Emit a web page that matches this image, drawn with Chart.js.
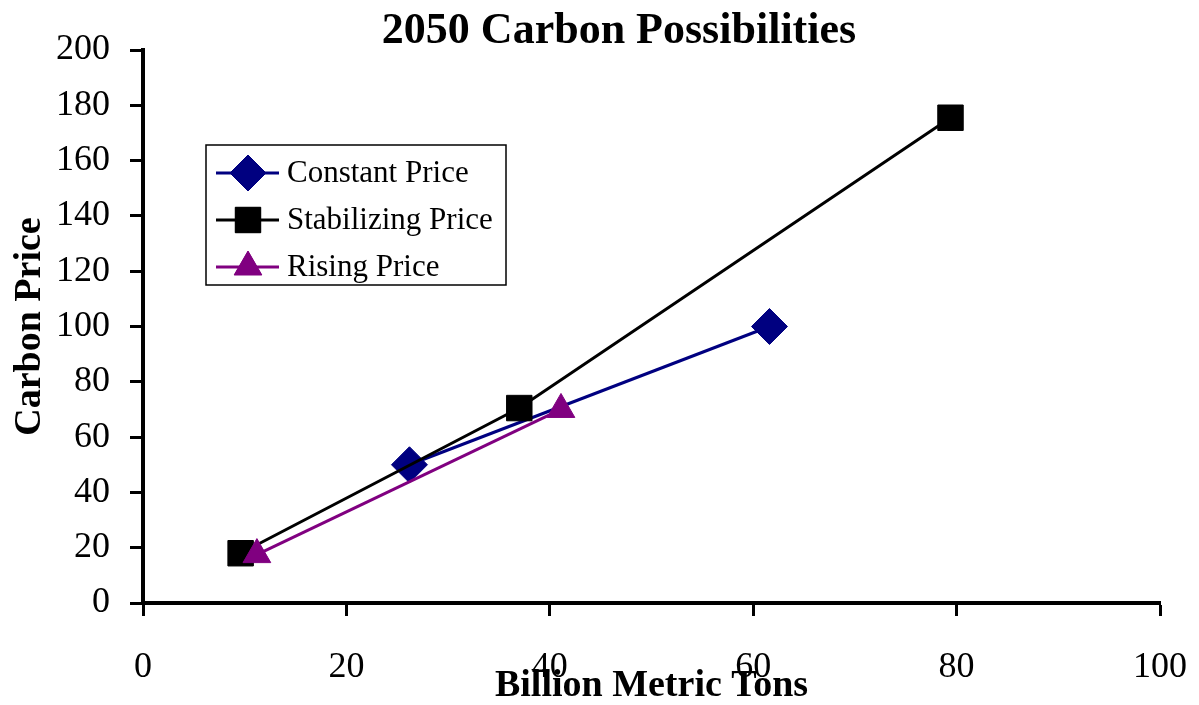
<!DOCTYPE html>
<html>
<head>
<meta charset="utf-8">
<script src="https://cdn.jsdelivr.net/npm/chart.js@4"></script>
<style>
  html, body { margin: 0; padding: 0; background: #fff; }
  #wrap { width: 1199px; height: 705px; }
</style>
</head>
<body>
<div id="wrap"><canvas id="c" width="1199" height="705"></canvas></div>
<script>
"use strict";
// 2050 carbon price vs. billion metric tons, three price paths
const TITLE = "2050 Carbon Possibilities";
const X_TITLE = "Billion Metric Tons";
const Y_TITLE = "Carbon Price";
const SERIES = ["Constant Price", "Stabilizing Price", "Rising Price"];
const constantPts = [[26.2, 50], [61.6, 100]];
const stabilizingPts = [[9.6, 18], [37, 70.5], [79.4, 175.5]];
const risingPts = [[11.2, 17.5], [41.1, 70]];
const X_RANGE = [0, 100, 20];
const Y_RANGE = [0, 200, 20];

const FONT = "'Liberation Serif', 'Times New Roman', serif";
const STYLE = [
  { color: "#000080", point: "rectRot", r: 18, order: 3 },
  { color: "#000000", point: "rect", r: 18, order: 2 },
  { color: "#800080", point: "triangle", r: 16, order: 1 },
];
const toXY = (pts) => pts.map(([x, y]) => ({ x, y }));
const data = [constantPts, stabilizingPts, risingPts];

// title + boxed legend inside the plot, Excel style
const decor = {
  id: "decor",
  afterDraw(chart) {
    const ctx = chart.ctx;
    ctx.save();
    ctx.fillStyle = "#000";
    ctx.font = `bold 44px ${FONT}`;
    ctx.textAlign = "center"; ctx.textBaseline = "middle";
    ctx.fillText(TITLE, 619, 32);

    const bx = 206, by = 145, bw = 300, bh = 140;
    ctx.fillStyle = "#fff"; ctx.fillRect(bx, by, bw, bh);
    ctx.strokeStyle = "#000"; ctx.lineWidth = 1.5; ctx.strokeRect(bx, by, bw, bh);
    chart.data.datasets.forEach((ds, i) => {
      const y = 173 + i * 47;
      ctx.strokeStyle = ds.borderColor; ctx.lineWidth = 3;
      ctx.beginPath(); ctx.moveTo(216, y); ctx.lineTo(279, y); ctx.stroke();
      ctx.fillStyle = ds.backgroundColor; ctx.strokeStyle = ds.borderColor; ctx.lineWidth = 1;
      Chart.helpers.drawPoint(ctx, { pointStyle: ds.pointStyle, radius: ds.pointRadius, borderWidth: 1 }, 248, y);
      ctx.fill();
      ctx.fillStyle = "#000"; ctx.font = `31px ${FONT}`;
      ctx.textAlign = "left"; ctx.textBaseline = "middle";
      ctx.fillText(ds.label, 287, y + 1);
    });
    ctx.restore();
  },
};

const axisGrid = { display: true, drawOnChartArea: false, drawTicks: true, tickLength: 13, tickWidth: 3, tickColor: "#000" };

new Chart(document.getElementById("c"), {
  type: "scatter",
  data: {
    datasets: SERIES.map((label, i) => ({
      label, data: toXY(data[i]), showLine: true,
      borderColor: STYLE[i].color, backgroundColor: STYLE[i].color, borderWidth: 3,
      pointStyle: STYLE[i].point, pointRadius: STYLE[i].r, pointHoverRadius: STYLE[i].r,
      pointBorderWidth: 1, order: STYLE[i].order,
    })),
  },
  options: {
    responsive: false, animation: false, devicePixelRatio: 1,
    layout: { padding: { top: 50, right: 39, left: 0, bottom: 0 } },
    plugins: { legend: { display: false }, tooltip: { enabled: false } },
    scales: {
      x: {
        type: "linear", min: X_RANGE[0], max: X_RANGE[1],
        afterFit: (s) => { s.height = 102; s.paddingLeft = 0; s.paddingRight = 0; },
        ticks: { stepSize: X_RANGE[2], color: "#000", padding: 30, font: { family: FONT, size: 36 } },
        grid: axisGrid,
        border: { color: "#000", width: 4 },
        title: { display: true, text: X_TITLE, color: "#000", padding: 0, font: { family: FONT, size: 38, weight: "bold", lineHeight: 1 } },
      },
      y: {
        type: "linear", min: Y_RANGE[0], max: Y_RANGE[1],
        afterFit: (s) => { s.width = 143; s.paddingTop = 0; s.paddingBottom = 0; },
        ticks: { stepSize: Y_RANGE[2], color: "#000", padding: 20, font: { family: FONT, size: 36 } },
        grid: axisGrid,
        border: { color: "#000", width: 4 },
        title: { display: true, text: Y_TITLE, color: "#000", padding: { top: 11, bottom: 0 }, font: { family: FONT, size: 38, weight: "bold", lineHeight: 1 } },
      },
    },
  },
  plugins: [decor],
});
</script>
</body>
</html>
